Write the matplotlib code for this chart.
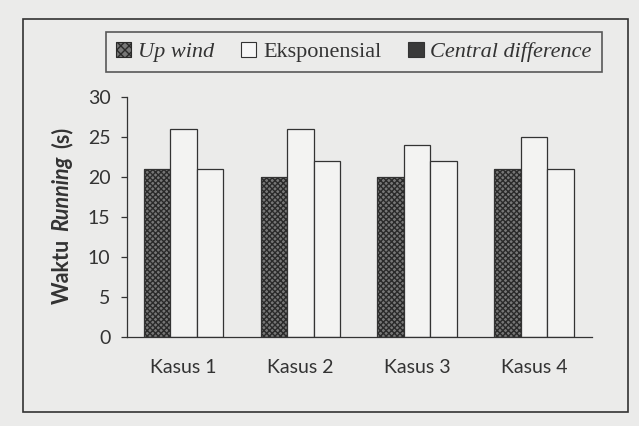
import numpy as np
import matplotlib
matplotlib.use("Agg")
import matplotlib.pyplot as plt
from matplotlib.patches import Patch, Rectangle

categories = ["Kasus 1", "Kasus 2", "Kasus 3", "Kasus 4"]
up_wind = [21, 20, 20, 21]
eksponensial = [26, 26, 24, 25]
central_difference = [21, 22, 22, 21]
series_names = ["Up wind", "Eksponensial", "Central difference"]
y_ticks = [0, 5, 10, 15, 20, 25, 30]
ylabel_parts = [("Waktu", "normal"), ("Running", "italic"), ("(s)", "normal")]

bg = "#ebebea"
ink = "#333333"

fig = plt.figure(figsize=(6.39, 4.26), dpi=100, facecolor=bg)
ax = fig.add_axes([0.198, 0.2096, 0.728, 0.5627])
ax.set_facecolor(bg)

x = np.arange(len(categories))
w = 0.227

# up wind: dark dotted bars (hatch drawn first, outline on top)
ax.bar(x - w, up_wind, w, facecolor="#777777", edgecolor="#2a2a2a", hatch="xxxxxx", linewidth=0)
ax.bar(x - w, up_wind, w, fill=False, edgecolor=ink, linewidth=0.9)
ax.bar(x, eksponensial, w, facecolor="#f3f3f2", edgecolor=ink, linewidth=0.9)
ax.bar(x + w, central_difference, w, facecolor="#f3f3f2", edgecolor=ink, linewidth=0.9)

ax.set_xlim(-0.489, 3.496)
ax.set_ylim(0, 30)
ax.set_yticks(y_ticks)
ax.set_xticks(x)
ax.set_xticklabels(categories)
for s in ["top", "right"]:
    ax.spines[s].set_visible(False)
for s in ["left", "bottom"]:
    ax.spines[s].set_color(ink)
    ax.spines[s].set_linewidth(0.9)
ax.tick_params(axis="y", direction="out", length=4.5, width=0.9, color=ink, pad=7,
               labelsize=14, labelcolor=ink)
ax.tick_params(axis="x", length=0, pad=16, labelsize=14, labelcolor=ink)
for t in ax.get_xticklabels() + ax.get_yticklabels():
    t.set_family("Lato")

# y label in three pieces so "Running" can be bold italic
fig.canvas.draw()
r = fig.canvas.get_renderer()
parts = []
for txt, style in ylabel_parts:
    t = fig.text(0, 0, txt, rotation=90, ha="center", va="center", family="Lato",
                 fontweight="bold", style=style, fontsize=15.5, color=ink)
    parts.append((t, t.get_window_extent(r).height))
gap = 8
total = sum(h for _, h in parts) + gap * (len(parts) - 1)
ypos = (426 - 215.5) - total / 2
for t, h in parts:
    t.set_position((62 / 639, (ypos + h / 2) / 426))
    ypos += h + gap

handles = [
    Patch(facecolor="#777777", edgecolor="#2a2a2a", hatch="xxxx", linewidth=0.8),
    Patch(facecolor="#f6f6f6", edgecolor=ink, linewidth=0.8),
    Patch(facecolor="#3a3a3a", edgecolor=ink, linewidth=0.8),
]
leg = fig.legend(handles, series_names, loc="center", bbox_to_anchor=(0.5535, 0.8775),
                 ncol=3, frameon=True, fancybox=False, handlelength=0.7, handleheight=0.7,
                 handletextpad=0.3, columnspacing=1.2, borderpad=0.45,
                 prop={"family": "Liberation Serif", "size": 16})
leg.get_frame().set_edgecolor(ink)
leg.get_frame().set_facecolor(bg)
leg.get_frame().set_linewidth(1.2)
for i, t in enumerate(leg.get_texts()):
    t.set_color(ink)
    if i != 1:
        t.set_style("italic")

# outer frame around the whole chart
fig.patches.append(Rectangle((22.7 / 639, 1 - 411.7 / 426), (628 - 22.7) / 639, (411.7 - 19.3) / 426,
                             transform=fig.transFigure, fill=False, edgecolor=ink, linewidth=1.2))

fig.savefig("out.png", dpi=100, facecolor=bg)
